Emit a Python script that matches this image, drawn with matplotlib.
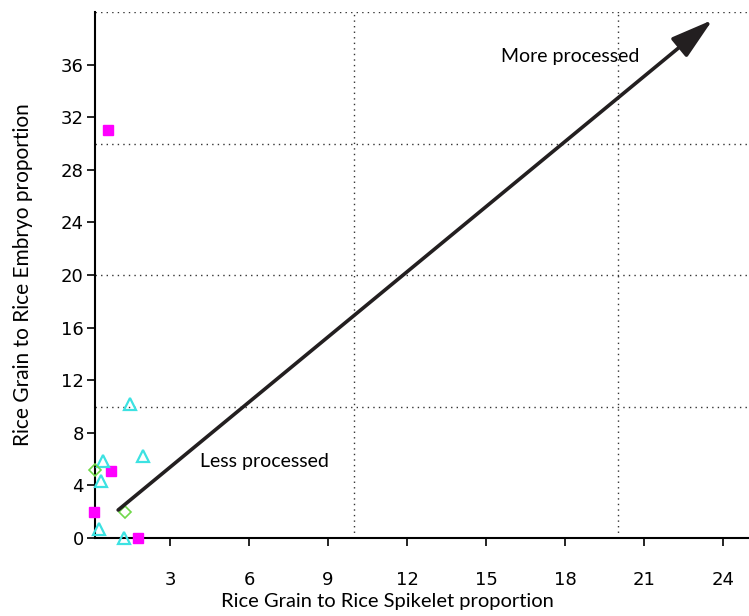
import matplotlib
matplotlib.use('Agg')
import matplotlib.pyplot as plt

# data
sq_x = [0.65, 0.75, 0.13, 1.8]          # magenta squares
sq_y = [31.0, 5.1, 1.95, 0.0]
tri_x = [1.48, 1.96, 0.47, 0.38, 0.30, 1.27]   # cyan triangles
tri_y = [10.2, 6.25, 5.85, 4.35, 0.65, 0.0]
dia_x = [0.15, 1.29]                    # green diamonds
dia_y = [5.2, 1.95]

arrow_start = (1.03, 2.13)
arrow_end = (23.6, 39.4)

xticks = [3, 6, 9, 12, 15, 18, 21, 24]
yticks = [0, 4, 8, 12, 16, 20, 24, 28, 32, 36]
grid_x = [10, 20]
grid_y = [10, 20, 30, 40]

fig = plt.figure(figsize=(7.49, 6.16), dpi=100)
ax = fig.add_axes([0.1268, 0.1266, 0.872, 0.8539])

for gx in grid_x:
    ax.axvline(gx, color='#333333', ls=(0, (1, 3)), lw=1.0, zorder=0)
for gy in grid_y:
    ax.axhline(gy, color='#333333', ls=(0, (1, 3)), lw=1.0, zorder=0)

ax.plot(sq_x, sq_y, 's', ms=7.5, color='#ff00ff', mec='#ff00ff', clip_on=False, zorder=3)
ax.plot(tri_x, tri_y, '^', ms=9, mfc='none', mec='#3ce2e2', mew=1.6, clip_on=False, zorder=3)
ax.plot(dia_x, dia_y, 'D', ms=6, mfc='none', mec='#70d84a', mew=1.2, clip_on=False, zorder=3)

ax.annotate('', xy=arrow_end, xytext=arrow_start,
            arrowprops=dict(arrowstyle='-|>,head_length=1.3,head_width=0.38',
                            lw=2.6, color='black', fc='#231f20', ec='#231f20',
                            shrinkA=0, shrinkB=0, mutation_scale=20))

txt_font = ['Lato', 'DejaVu Sans']
ax.text(18.2, 36.6, 'More processed', fontsize=14, family=txt_font, ha='center', va='center')
ax.text(6.57, 5.8, 'Less processed', fontsize=14, family=txt_font, ha='center', va='center')

ax.set_xlim(0.15, 24.95)
ax.set_ylim(0, 40)
ax.set_xticks(xticks)
ax.set_yticks(yticks)

tick_font = ['Liberation Sans Narrow', 'DejaVu Sans']
for lab in ax.get_xticklabels() + ax.get_yticklabels():
    lab.set_family(tick_font)
    lab.set_fontsize(13)
ax.tick_params(axis='x', direction='out', length=6, width=1.2, pad=18)
ax.tick_params(axis='y', direction='out', length=6, width=1.2, pad=2)

for s in ['top', 'right']:
    ax.spines[s].set_visible(False)
for s in ['left', 'bottom']:
    ax.spines[s].set_linewidth(1.5)

fig.text(0.517, 1 - 602 / 616, 'Rice Grain to Rice Spikelet proportion',
         fontsize=14.5, family=txt_font, ha='center', va='center')
ax.set_ylabel('Rice Grain to Rice Embryo proportion', fontsize=15, family=txt_font, labelpad=20)

fig.savefig('out.png', dpi=100)
